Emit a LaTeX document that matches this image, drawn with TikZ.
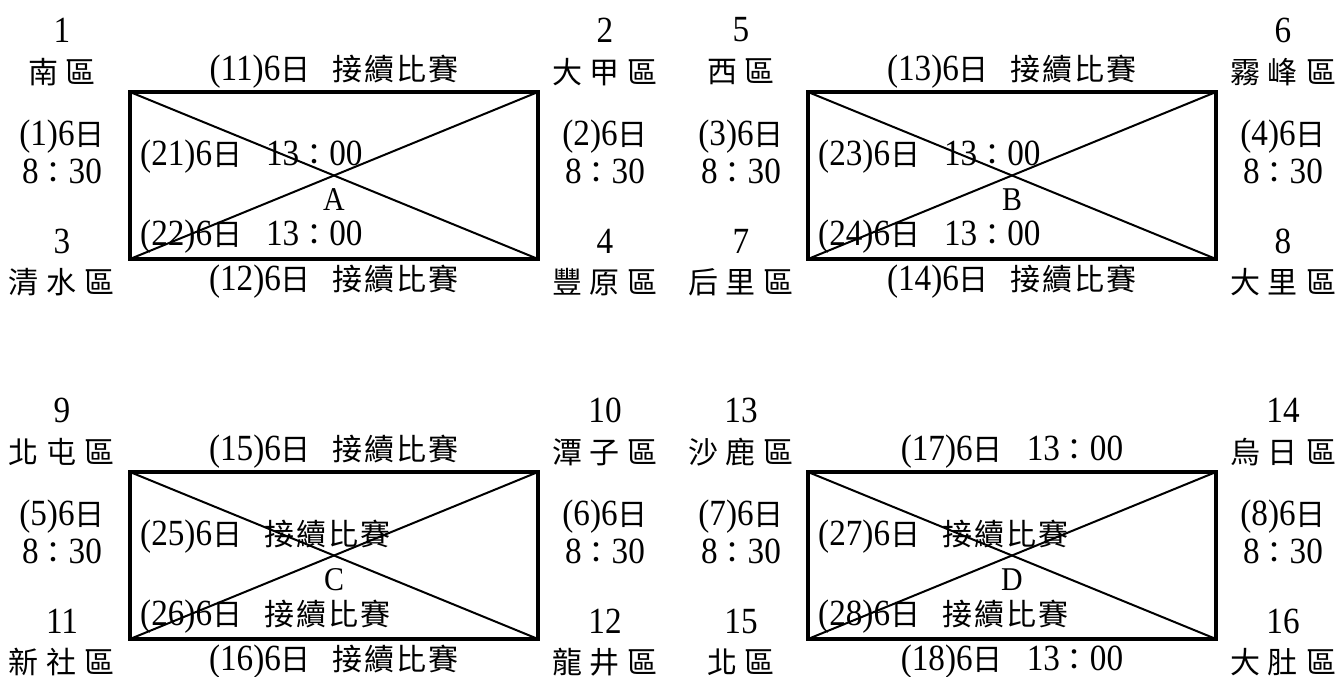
\documentclass[tikz,border=0pt]{standalone}
\usepackage{fontspec}
\setmainfont{Liberation Serif}[Scale=1.23, FakeStretch=0.9]
\newfontfamily\cjk{Noto Sans CJK TC}
\newcommand\zh[1]{{\cjk #1}}
\newcommand\ga{\hspace{8pt}}
\newcommand\gb{\hspace{2pt}}
\newcommand\gw{\hspace{22pt}}
\newcommand\gd{\hspace{24pt}}
\newcommand\JX{\zh{接\gb 續\gb 比\gb 賽}}
\newcommand\TM{13\zh{：}00}
\newcommand\MT{8\zh{：}30}
\newcommand\SR{6\zh{日}}
\tikzset{
  lab/.style={inner sep=0pt, font=\fontsize{30}{32}\selectfont},
  labw/.style={lab, anchor=west},
  letr/.style={inner sep=0pt, font=\fontsize{27}{29}\selectfont},
  court/.style={draw, line width=3.5pt, minimum width=408pt, minimum height=167pt, outer sep=0pt, inner sep=0pt},
  diag/.style={line width=2pt},
}
\begin{document}
\begin{tikzpicture}[x=1pt,y=-1pt]
\useasboundingbox (0,0) rectangle (1339,677);
% courts
\node[court] (bA) at (334,175.5) {};
\node[court] (bB) at (1012,175.5) {};
\node[court] (bC) at (334,555.5) {};
\node[court] (bD) at (1012,555.5) {};
\foreach \b in {bA,bB,bC,bD}{
  \draw[diag] (\b.north west) -- (\b.south east);
  \draw[diag] (\b.south west) -- (\b.north east);
}
% ---- block A
\node[lab] (n1) at (62,30) {1};
\node[lab] (r1) at (62,72) {\zh{南\ga 區}};
\node[lab] (m1a) at (62,137) {(1)\SR};
\node[lab] (m1b) at (62,171) {\MT};
\node[lab] (n3) at (62,241) {3};
\node[lab] (r3) at (62,282) {\zh{清\ga 水\ga 區}};
\node[lab] (n2) at (605,30) {2};
\node[lab] (r2) at (605,72) {\zh{大\ga 甲\ga 區}};
\node[lab] (m2a) at (605,137) {(2)\SR};
\node[lab] (m2b) at (605,171) {\MT};
\node[lab] (n4) at (605,241) {4};
\node[lab] (r4) at (605,282) {\zh{豐\ga 原\ga 區}};
\node[lab] (g11) at (334,72) {(11)\SR\gw\JX};
\node[lab] (g12) at (334,282) {(12)\SR\gw\JX};
\node[labw] (g21) at (140,157) {(21)\SR\gd\TM};
\node[labw] (g22) at (140,237) {(22)\SR\gd\TM};
\node[letr] (lA) at (334,200) {A};
% ---- block B
\node[lab] (n5) at (741,30) {5};
\node[lab] (r5) at (741,72) {\zh{西\ga 區}};
\node[lab] (m3a) at (741,137) {(3)\SR};
\node[lab] (m3b) at (741,171) {\MT};
\node[lab] (n7) at (741,241) {7};
\node[lab] (r7) at (741,282) {\zh{后\ga 里\ga 區}};
\node[lab] (n6) at (1283,30) {6};
\node[lab] (r6) at (1283,72) {\zh{霧\ga 峰\ga 區}};
\node[lab] (m4a) at (1283,137) {(4)\SR};
\node[lab] (m4b) at (1283,171) {\MT};
\node[lab] (n8) at (1283,241) {8};
\node[lab] (r8) at (1283,282) {\zh{大\ga 里\ga 區}};
\node[lab] (g13) at (1012,72) {(13)\SR\gw\JX};
\node[lab] (g14) at (1012,282) {(14)\SR\gw\JX};
\node[labw] (g23) at (818,157) {(23)\SR\gd\TM};
\node[labw] (g24) at (818,237) {(24)\SR\gd\TM};
\node[letr] (lB) at (1012,200) {B};
% ---- block C
\node[lab] (n9) at (62,410) {9};
\node[lab] (r9) at (62,452) {\zh{北\ga 屯\ga 區}};
\node[lab] (m5a) at (62,517) {(5)\SR};
\node[lab] (m5b) at (62,551) {\MT};
\node[lab] (n11) at (62,621) {11};
\node[lab] (r11) at (62,662) {\zh{新\ga 社\ga 區}};
\node[lab] (n10) at (605,410) {10};
\node[lab] (r10) at (605,452) {\zh{潭\ga 子\ga 區}};
\node[lab] (m6a) at (605,517) {(6)\SR};
\node[lab] (m6b) at (605,551) {\MT};
\node[lab] (n12) at (605,621) {12};
\node[lab] (r12) at (605,662) {\zh{龍\ga 井\ga 區}};
\node[lab] (g15) at (334,452) {(15)\SR\gw\JX};
\node[lab] (g16) at (334,662) {(16)\SR\gw\JX};
\node[labw] (g25) at (140,537) {(25)\SR\gw\JX};
\node[labw] (g26) at (140,617) {(26)\SR\gw\JX};
\node[letr] (lC) at (334,580) {C};
% ---- block D
\node[lab] (n13) at (741,410) {13};
\node[lab] (r13) at (741,452) {\zh{沙\ga 鹿\ga 區}};
\node[lab] (m7a) at (741,517) {(7)\SR};
\node[lab] (m7b) at (741,551) {\MT};
\node[lab] (n15) at (741,621) {15};
\node[lab] (r15) at (741,662) {\zh{北\ga 區}};
\node[lab] (n14) at (1283,410) {14};
\node[lab] (r14) at (1283,452) {\zh{烏\ga 日\ga 區}};
\node[lab] (m8a) at (1283,517) {(8)\SR};
\node[lab] (m8b) at (1283,551) {\MT};
\node[lab] (n16) at (1283,621) {16};
\node[lab] (r16) at (1283,662) {\zh{大\ga 肚\ga 區}};
\node[lab] (g17) at (1012,452) {(17)\SR\gd\TM};
\node[lab] (g18) at (1012,662) {(18)\SR\gd\TM};
\node[labw] (g27) at (818,537) {(27)\SR\gw\JX};
\node[labw] (g28) at (818,617) {(28)\SR\gw\JX};
\node[letr] (lD) at (1012,580) {D};
\end{tikzpicture}
\end{document}
